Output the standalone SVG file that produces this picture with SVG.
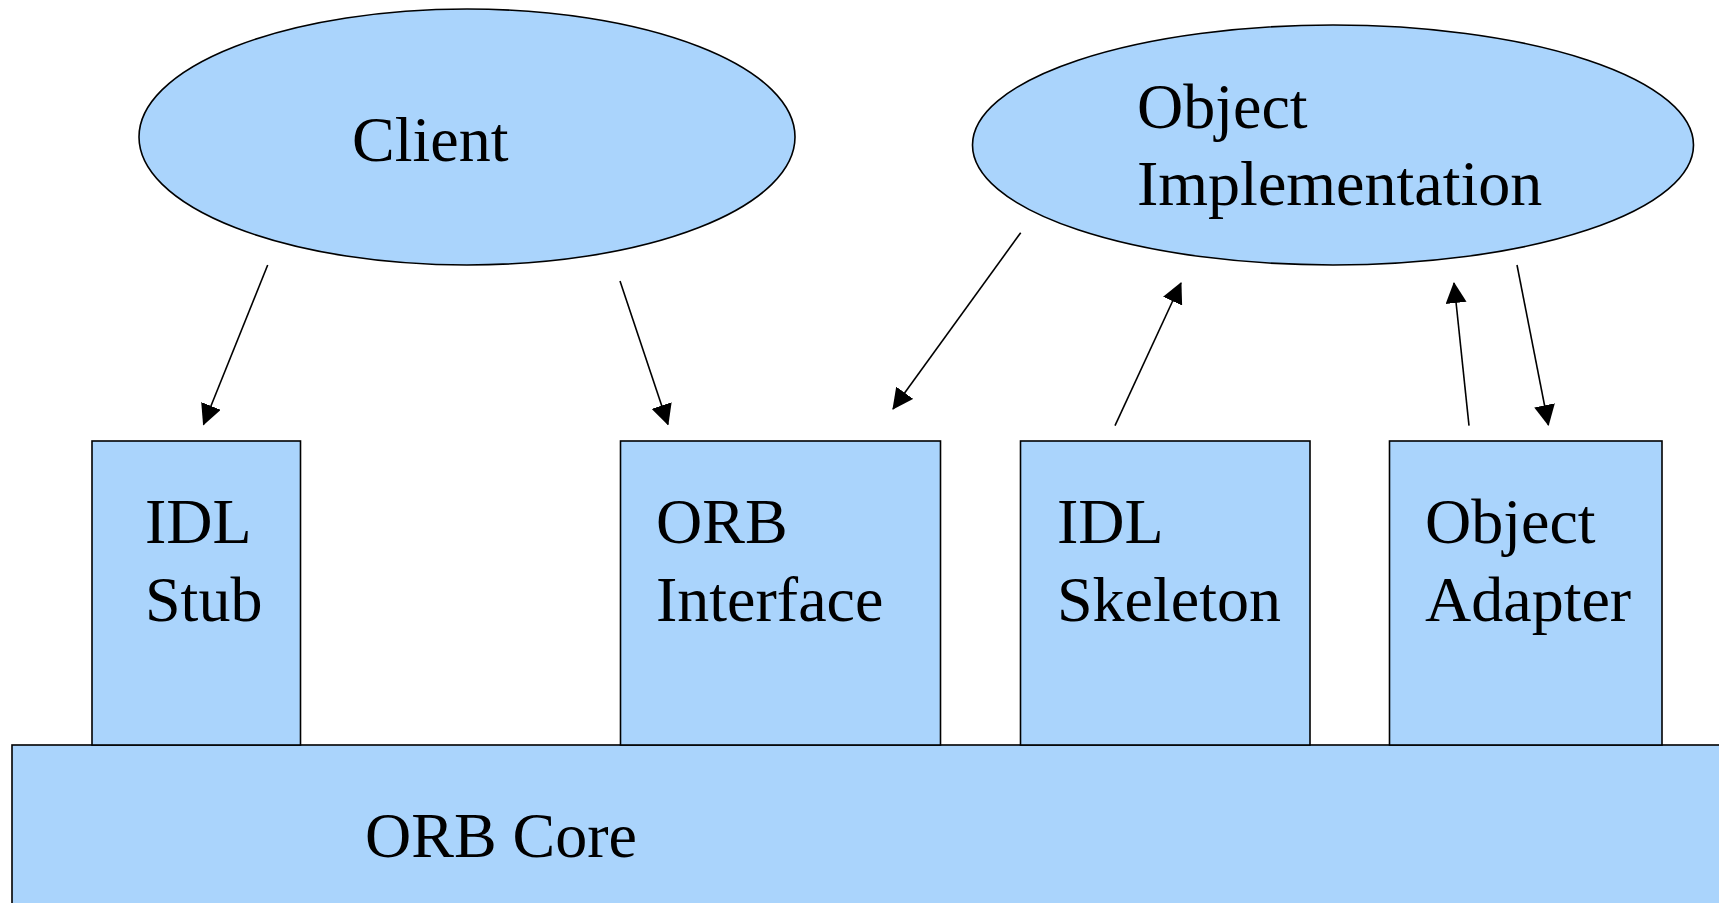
<svg xmlns="http://www.w3.org/2000/svg" width="1719" height="903" viewBox="0 0 1719 903">
<defs>
<style>
.shape{fill:#aad4fc;stroke:#000;stroke-width:1.6}
.lbl{font-family:"Liberation Serif","Times New Roman",serif;font-size:64px;fill:#000}
.conn{stroke:#000;stroke-width:1.6;fill:none;marker-end:url(#ah)}
</style>
<marker id="ah" markerUnits="userSpaceOnUse" markerWidth="21" markerHeight="21" viewBox="0 0 21 21" refX="20" refY="10.5" orient="auto">
<path d="M0,0 L21,10.5 L0,21 z" fill="#000"/>
</marker>
</defs>
<rect width="1719" height="903" fill="#fff"/>
<g id="orb-core">
<rect class="shape" x="12" y="745" width="1720" height="170"/>
<text class="lbl" x="365" y="857">ORB Core</text>
</g>
<g id="idl-stub">
<rect class="shape" x="92" y="441" width="208.5" height="304"/>
<text class="lbl" x="145" y="543">IDL</text>
<text class="lbl" x="145" y="621">Stub</text>
</g>
<g id="orb-interface">
<rect class="shape" x="620.5" y="441" width="320" height="304"/>
<text class="lbl" x="656" y="543">ORB</text>
<text class="lbl" x="656" y="621">Interface</text>
</g>
<g id="idl-skeleton">
<rect class="shape" x="1020.5" y="441" width="289.5" height="304"/>
<text class="lbl" x="1057" y="543">IDL</text>
<text class="lbl" x="1057" y="621">Skeleton</text>
</g>
<g id="object-adapter">
<rect class="shape" x="1389.5" y="441" width="272.5" height="304"/>
<text class="lbl" x="1425" y="543">Object</text>
<text class="lbl" x="1425" y="621">Adapter</text>
</g>
<g id="client">
<ellipse class="shape" cx="467" cy="137" rx="328" ry="128"/>
<text class="lbl" x="352" y="161">Client</text>
</g>
<g id="object-implementation">
<ellipse class="shape" cx="1333" cy="145" rx="360.5" ry="120"/>
<text class="lbl" x="1137" y="128">Object</text>
<text class="lbl" x="1137" y="205">Implementation</text>
</g>
<g id="connectors">
<line class="conn" x1="267.7" y1="265" x2="203.5" y2="424.5"/>
<line class="conn" x1="620" y1="281" x2="668" y2="424.5"/>
<line class="conn" x1="1020.7" y1="232.7" x2="893" y2="409"/>
<line class="conn" x1="1115" y1="425.7" x2="1181" y2="283"/>
<line class="conn" x1="1469" y1="425.7" x2="1454" y2="283"/>
<line class="conn" x1="1517" y1="265" x2="1548.4" y2="425"/>
</g>
</svg>
